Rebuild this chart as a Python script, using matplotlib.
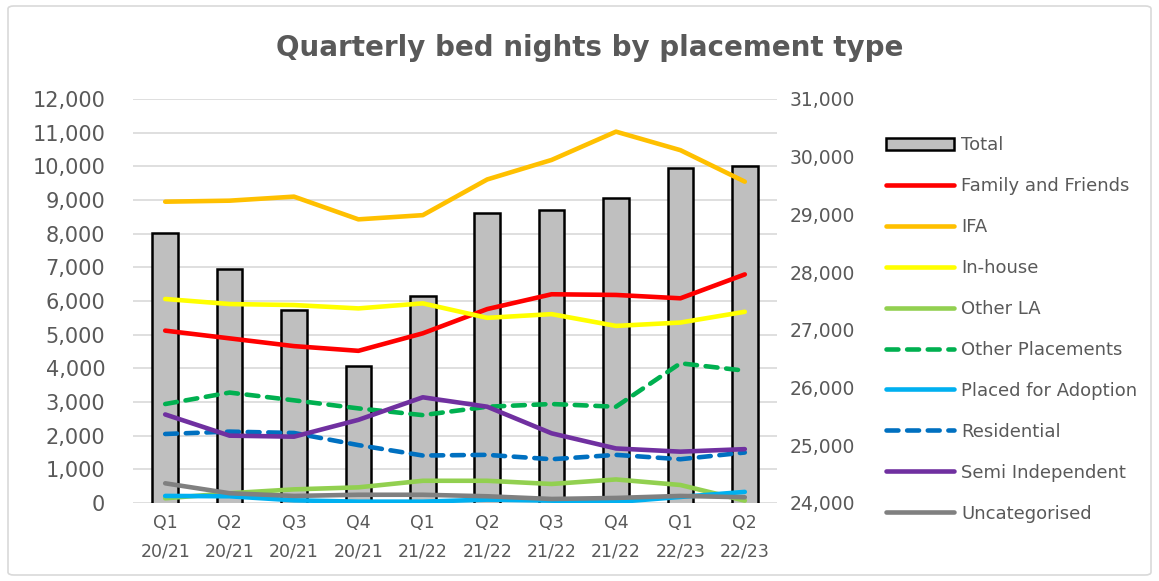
import matplotlib
matplotlib.use("Agg")
import matplotlib.pyplot as plt
from matplotlib.patches import FancyBboxPatch
import numpy as np

quarters = ["Q1\n20/21", "Q2\n20/21", "Q3\n20/21", "Q4\n20/21", "Q1\n21/22",
            "Q2\n21/22", "Q3\n21/22", "Q4\n21/22", "Q1\n22/23", "Q2\n22/23"]

total = [28670, 28055, 27345, 26375, 27590, 29030, 29080, 29290, 29800, 29840]

family_friends = [5120, 4890, 4660, 4520, 5040, 5760, 6200, 6180, 6080, 6790]
ifa = [8950, 8980, 9100, 8425, 8550, 9610, 10190, 11030, 10480, 9545]
in_house = [6060, 5910, 5880, 5780, 5930, 5500, 5610, 5260, 5360, 5680]
other_la = [140, 290, 405, 465, 660, 660, 565, 700, 535, 70]
other_placements = [2940, 3280, 3050, 2810, 2610, 2860, 2940, 2860, 4150, 3930]
placed_adoption = [210, 200, 80, 40, 40, 100, 70, 30, 180, 330]
residential = [2050, 2120, 2080, 1720, 1410, 1430, 1300, 1430, 1300, 1500]
semi_independent = [2630, 2000, 1970, 2470, 3140, 2860, 2070, 1620, 1525, 1600]
uncategorised = [585, 290, 210, 245, 245, 200, 120, 150, 210, 170]

series = [
    ("Family and Friends", family_friends, "#ff0000", "-"),
    ("IFA", ifa, "#ffc000", "-"),
    ("In-house", in_house, "#ffff00", "-"),
    ("Other LA", other_la, "#92d050", "-"),
    ("Other Placements", other_placements, "#00b050", (0, (2.6, 1.9))),
    ("Placed for Adoption", placed_adoption, "#00b0f0", "-"),
    ("Residential", residential, "#0070c0", (0, (2.6, 1.9))),
    ("Semi Independent", semi_independent, "#7030a0", "-"),
    ("Uncategorised", uncategorised, "#808080", "-"),
]

TXT = "#595959"
fig = plt.figure(figsize=(11.59, 5.81), dpi=100)
pos = [133 / 1159, 1 - 503 / 581, (777 - 133) / 1159, (503 - 99) / 581]

ax1 = fig.add_axes(pos)
ax2 = ax1.twinx()
ax3 = fig.add_axes(pos, sharex=ax1, sharey=ax1)
ax1.set_zorder(1)
ax2.set_zorder(2)
ax3.set_zorder(3)
for a in (ax2, ax3):
    a.patch.set_visible(False)

x = np.arange(len(quarters))

ax1.set_ylim(0, 12000)
ax1.set_yticks(np.arange(0, 12001, 1000))
ax1.set_yticklabels([f"{v:,}" for v in range(0, 12001, 1000)])
ax1.grid(axis="y", color="#d9d9d9", linewidth=1.2)
ax1.set_axisbelow(True)
ax1.set_xlim(-0.5, len(quarters) - 0.5)
ax1.set_xticks(x)
ax1.set_xticklabels(quarters)
ax1.tick_params(axis="both", length=0, colors=TXT)
ax1.tick_params(axis="y", labelsize=15, pad=20)
ax1.tick_params(axis="x", labelsize=12.5, pad=8)
for t in ax1.get_xticklabels():
    t.set_linespacing(1.75)

bars = ax2.bar(x, total, width=0.4, color="#bfbfbf", edgecolor="black",
               linewidth=1.8, label="Total")
ax2.set_ylim(24000, 31000)
ax2.set_yticks(np.arange(24000, 31001, 1000))
ax2.set_yticklabels([f"{v:,}" for v in range(24000, 31001, 1000)])
ax2.tick_params(axis="y", length=0, colors=TXT, labelsize=13.5, pad=9)

handles = [bars]
for name, vals, col, ls in series:
    ln, = ax3.plot(x, vals, color=col, linestyle=ls, linewidth=3.3,
                   solid_capstyle="round", dash_capstyle="round", label=name)
    handles.append(ln)
ax3.axis("off")

for a in (ax1, ax2, ax3):
    for s in a.spines.values():
        s.set_visible(False)

leg = fig.legend(handles=handles, labels=[h.get_label() for h in handles],
                 loc="upper left", bbox_to_anchor=(879 / 1159, 1 - 129 / 581),
                 frameon=False, fontsize=13, labelcolor=TXT,
                 handlelength=3.75, handletextpad=0.4, labelspacing=1.27,
                 borderaxespad=0)

fig.text(590 / 1159, 1 - 48 / 581, "Quarterly bed nights by placement type",
         ha="center", va="center", fontsize=20, fontweight="bold", color=TXT)

border = FancyBboxPatch((8 / 1159, 6 / 581), 1 - 16 / 1159, 1 - 12 / 581,
                        boxstyle="round,pad=0,rounding_size=0.005",
                        transform=fig.transFigure, fill=False,
                        edgecolor="#d9d9d9", linewidth=1.2)
fig.patches.append(border)

fig.savefig("out.png", dpi=100)
